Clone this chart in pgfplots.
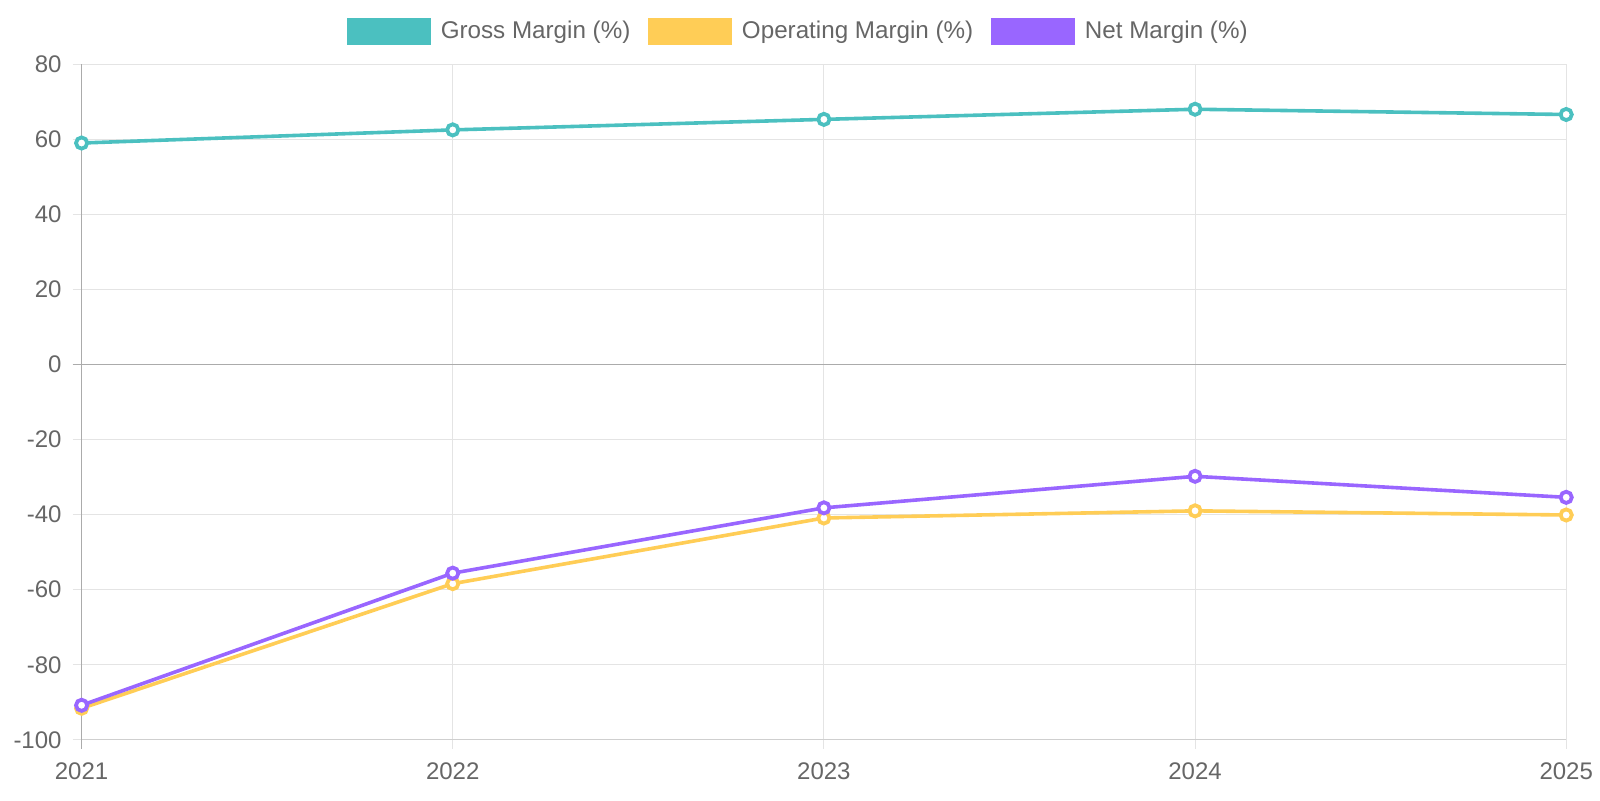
\documentclass[border=0pt]{standalone}
\usepackage{fontspec}
\setmainfont{Liberation Sans}
\usepackage{pgfplots}
\pgfplotsset{compat=1.18}

\definecolor{gross}{HTML}{4BC0C0}
\definecolor{oper}{HTML}{FFCD56}
\definecolor{net}{HTML}{9966FF}
\definecolor{txt}{HTML}{666666}
\definecolor{gridc}{HTML}{E4E4E4}
\definecolor{zeroc}{HTML}{ABABAB}
\definecolor{basec}{HTML}{CFCFCF}

\begin{document}
\begin{tikzpicture}
\begin{axis}[
   at={(0,0)}, anchor=south west,
   scale only axis,
   width=742.3pt, height=337.8pt,
   xmin=2021, xmax=2025,
   ymin=-100, ymax=80,
   xtick={2021,2022,2023,2024,2025},
   ytick={-100,-80,...,80},
   xtick pos=bottom, ytick pos=left,
   xticklabel style={/pgf/number format/1000 sep={}},
   /pgf/number format/assume math mode=true,
   ticklabel style={font=\fontsize{12}{14}\selectfont, text=txt},
   grid=major,
   grid style={gridc, line width=0.5pt},
   axis line style={draw=none},
   tick align=outside,
   major tick length=4.5pt,
   tick style={gridc, line width=0.5pt},
   xticklabel style={yshift=-3.5pt},
   yticklabel style={xshift=-2pt},
   clip=false,
   legend columns=3,
   legend style={draw=none, fill=none, at={(0.5,1)}, anchor=center,
      xshift=-12pt, yshift=16.3pt,
      font=\fontsize{12.1}{14}\selectfont, text=txt,
      /tikz/every odd column/.append style={column sep=2.5pt},
      /tikz/every even column/.append style={column sep=6.5pt},
      nodes={inner sep=2.5pt}},
   legend image code/.code={\fill[#1, draw=none] (0pt,-6.9pt) rectangle (41.8pt,6.9pt);},
   every axis plot/.append style={line width=1.8pt, mark=*, mark size=2.8pt,
      mark options={fill=white, line width=1.9pt}},
]
\draw[basec, line width=0.6pt] (axis cs:2021,-100) -- (axis cs:2025,-100);
\draw[zeroc, line width=0.6pt] ([xshift=-4.5pt]axis cs:2021,0) -- (axis cs:2025,0);
\draw[zeroc, line width=0.6pt] ([yshift=-4.5pt]axis cs:2021,-100) -- (axis cs:2021,80);

\addplot[color=gross] coordinates {
   (2021, 59.0) (2022, 62.5) (2023, 65.3) (2024, 68.0) (2025, 66.6)
};
\addlegendentry{Gross Margin (\%)}
\addplot[color=oper] coordinates {
   (2021, -91.6) (2022, -58.4) (2023, -40.9) (2024, -39.0) (2025, -40.1)
};
\addlegendentry{Operating Margin (\%)}
\addplot[color=net] coordinates {
   (2021, -90.8) (2022, -55.6) (2023, -38.2) (2024, -29.8) (2025, -35.4)
};
\addlegendentry{Net Margin (\%)}
\end{axis}
\pgfresetboundingbox
\useasboundingbox (-40.8pt,-30.1pt) rectangle (759.2pt,369.9pt);
\end{tikzpicture}
\end{document}
